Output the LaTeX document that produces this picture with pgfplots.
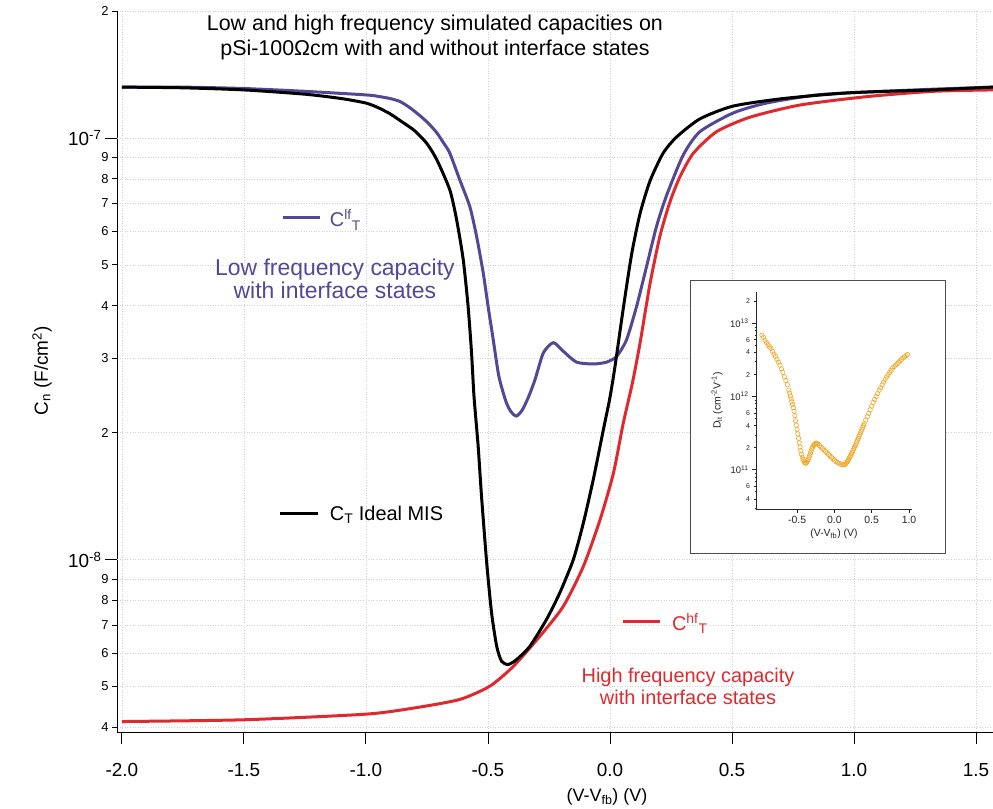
\documentclass[border=0pt]{standalone}
\usepackage{fontspec}
\setmainfont{Liberation Sans}
\usepackage{pgfplots}
\pgfplotsset{compat=1.18}
\definecolor{cpurple}{RGB}{86,70,150}
\definecolor{cred}{RGB}{222,42,46}
\definecolor{corange}{RGB}{240,168,40}
\newcommand{\fs}[1]{\fontsize{#1}{#1}\selectfont}
\begin{document}
\begin{tikzpicture}
\begin{axis}[
  at={(0,0)}, anchor=south west,
  scale only axis, width=876bp, height=721bp,
  xmin=-2.02, xmax=1.57,
  ymode=log, ymin=3.9e-9, ymax=2e-7,
  axis x line*=bottom, axis y line*=left,
  axis line style={line width=0.9pt,-},
  tick align=outside,
  tick style={black, line width=0.8pt},
  major tick length=5bp,
  xtick=\empty,
  extra x ticks={-2,-1.5,-1,-0.5,0,0.5,1,1.5},
  extra x tick labels={-2.0,-1.5,-1.0,-0.5,0.0,0.5,1.0,1.5},
  ytick={4e-9,5e-9,6e-9,7e-9,8e-9,9e-9,2e-8,3e-8,4e-8,5e-8,6e-8,7e-8,8e-8,9e-8,2e-7},
  yticklabels={4,5,6,7,8,9,2,3,4,5,6,7,8,9,2},
  extra y ticks={1e-8,1e-7},
  extra y tick labels={10\textsuperscript{-8},10\textsuperscript{-7}},
  extra tick style={major tick length=12bp, grid=major,
     yticklabel style={font=\fs{19}}},
  xticklabel style={font=\fs{19}, yshift=-16bp},
  yticklabel style={font=\fs{13}},
  ymajorgrids, xmajorgrids,
  grid style={gray!35, dash pattern=on 1pt off 1.6pt, line width=0.6pt},
  clip=false,
]
% High frequency (red)
\addplot[cred, line width=3bp, smooth, tension=0.4] coordinates {
(-2.0,4.13e-9) (-1.5,4.17e-9) (-1.0,4.3e-9) (-0.8,4.45e-9) (-0.615,4.66e-9)
(-0.492,5.01e-9) (-0.396,5.58e-9) (-0.287,6.58e-9) (-0.191,7.75e-9) (-0.109,9.63e-9)
(-0.041,1.24e-8) (0.014,1.60e-8) (0.055,2.11e-8) (0.092,2.62e-8) (0.123,3.25e-8)
(0.164,4.5e-8) (0.205,5.85e-8) (0.246,7.05e-8) (0.287,8.09e-8) (0.342,9.2e-8)
(0.437,1.035e-7) (0.574,1.12e-7) (0.779,1.197e-7) (1.052,1.253e-7) (1.325,1.29e-7) (1.57,1.30e-7)
};
% Low frequency (purple)
\addplot[cpurple, line width=3bp, smooth, tension=0.4] coordinates {
(-2.0,1.32e-7) (-1.75,1.32e-7) (-1.5,1.31e-7) (-1.25,1.29e-7) (-1.0,1.265e-7)
(-0.95,1.255e-7) (-0.9,1.24e-7) (-0.86,1.22e-7) (-0.82,1.18e-7) (-0.779,1.13e-7)
(-0.745,1.085e-7) (-0.71,1.03e-7) (-0.68,9.7e-8)
(-0.656,9.2e-8) (-0.615,7.95e-8) (-0.574,6.87e-8) (-0.546,5.83e-8) (-0.519,4.78e-8)
(-0.499,3.98e-8) (-0.478,3.32e-8) (-0.455,2.72e-8) (-0.426,2.37e-8) (-0.405,2.24e-8)
(-0.383,2.19e-8) (-0.360,2.26e-8) (-0.335,2.42e-8) (-0.307,2.67e-8) (-0.273,3.09e-8)
(-0.232,3.27e-8) (-0.191,3.12e-8) (-0.137,2.94e-8) (-0.068,2.91e-8) (-0.014,2.94e-8)
(0.027,3.03e-8) (0.068,3.32e-8) (0.109,3.98e-8) (0.150,4.95e-8) (0.191,6.17e-8)
(0.232,7.3e-8) (0.30,9.1e-8) (0.369,1.035e-7) (0.505,1.146e-7) (0.642,1.21e-7)
(0.847,1.265e-7) (1.052,1.285e-7) (1.324,1.305e-7) (1.57,1.32e-7)
};
% Ideal MIS (black)
\addplot[black, line width=3bp, smooth, tension=0.4] coordinates {
(-2.0,1.32e-7) (-1.75,1.315e-7) (-1.5,1.30e-7) (-1.25,1.27e-7) (-1.1,1.24e-7)
(-1.0,1.21e-7) (-0.95,1.18e-7) (-0.9,1.14e-7) (-0.85,1.09e-7) (-0.80,1.04e-7)
(-0.75,9.7e-8) (-0.709,8.87e-8) (-0.656,7.53e-8) (-0.628,6.39e-8) (-0.601,5.14e-8)
(-0.581,3.98e-8) (-0.567,3.09e-8) (-0.557,2.44e-8) (-0.540,1.86e-8) (-0.526,1.41e-8)
(-0.505,9.84e-9) (-0.485,7.48e-9) (-0.464,6.23e-9) (-0.444,5.74e-9) (-0.417,5.64e-9)
(-0.383,5.79e-9) (-0.328,6.23e-9) (-0.260,7.21e-9) (-0.205,8.35e-9) (-0.150,1.0e-8)
(-0.109,1.22e-8) (-0.068,1.55e-8) (-0.027,2.03e-8) (0.0,2.42e-8) (0.02,2.85e-8)
(0.055,3.95e-8) (0.089,5.3e-8) (0.123,6.6e-8) (0.164,7.9e-8) (0.218,9.2e-8)
(0.273,1.005e-7) (0.369,1.11e-7) (0.505,1.19e-7) (0.71,1.24e-7) (0.984,1.28e-7)
(1.324,1.30e-7) (1.57,1.32e-7)
};
% annotations
\node[align=center, font=\fs{21.5}, inner sep=0pt] at (axis cs:-0.717,1.73e-7)
  {Low and high frequency simulated capacities on\\[3bp] pSi-100Ωcm with and without interface states};
\draw[cpurple, line width=3bp] (axis cs:-1.340,6.46e-8) -- (axis cs:-1.189,6.46e-8);
\node[cpurple, anchor=west, font=\fs{20}, inner sep=0pt] at (axis cs:-1.148,6.40e-8) {C\textsuperscript{lf}\textsubscript{T}};
\node[cpurple, align=center, font=\fs{23}, inner sep=0pt] at (axis cs:-1.127,4.64e-8)
  {Low frequency capacity\\[0bp] with interface states};
\draw[black, line width=3bp] (axis cs:-1.352,1.285e-8) -- (axis cs:-1.197,1.285e-8);
\node[black, anchor=west, font=\fs{20}, inner sep=0pt] at (axis cs:-1.148,1.28e-8) {C\textsubscript{T} Ideal MIS};
\draw[cred, line width=3bp] (axis cs:0.053,7.13e-9) -- (axis cs:0.205,7.13e-9);
\node[cred, anchor=west, font=\fs{20}, inner sep=0pt] at (axis cs:0.254,7.06e-9) {C\textsuperscript{hf}\textsubscript{T}};
\node[cred, align=center, font=\fs{20}, inner sep=0pt] at (axis cs:0.320,5.0e-9)
  {High frequency capacity\\[2bp] with interface states};
\end{axis}
\node[rotate=90, font=\fs{19}] at (-75bp,361bp) {C\textsubscript{n} (F/cm\textsuperscript{2})};
\node[font=\fs{18}] at (490bp,-65bp) {(V-V\textsubscript{fb}) (V)};
% inset
\draw[fill=white, draw=gray!60!black, line width=0.8pt] (573bp,179bp) rectangle (828bp,452bp);
\begin{axis}[
  at={(639bp,223bp)}, anchor=south west,
  scale only axis, width=156bp, height=217bp,
  xmin=-1.05, xmax=1.04,
  ymode=log, ymin=2.9e10, ymax=2.7e13,
  axis x line*=bottom, axis y line*=left,
  axis line style={line width=0.6pt, gray!30!black,-},
  tick align=outside,
  tick style={gray!30!black, line width=0.5pt},
  major tick length=2.5bp, minor tick length=1.5bp,
  xtick=\empty,
  extra x ticks={-0.5,0,0.5,1},
  extra x tick labels={-0.5,0.0,0.5,1.0},
  ytick={4e10,6e10,2e11,4e11,6e11,2e12,4e12,6e12,2e13},
  yticklabels={4,6,2,4,6,2,4,6,2},
  minor ytick={3e10,5e10,7e10,8e10,9e10,3e11,5e11,7e11,8e11,9e11,3e12,5e12,7e12,8e12,9e12},
  extra y ticks={1e11,1e12,1e13},
  extra y tick labels={10\textsuperscript{11},10\textsuperscript{12},10\textsuperscript{13}},
  extra tick style={major tick length=4bp, yticklabel style={font=\fs{9.5}}},
  xticklabel style={font=\fs{10.5}, gray!30!black},
  yticklabel style={font=\fs{7}, gray!30!black},
  xlabel={(V-V\textsubscript{fb}) (V)},
  xlabel style={font=\fs{10.5}, gray!30!black, yshift=4bp},
  ylabel={D\textsubscript{it} (cm\textsuperscript{-2}V\textsuperscript{-1})},
  ylabel style={font=\fs{10.5}, gray!30!black, yshift=-2bp},
  clip=false,
]
\addplot[only marks, mark=o, mark size=2.2bp, corange, mark options={line width=0.6pt}] coordinates {
(-0.97,6.92e12) (-0.95,6.46e12) (-0.93,5.89e12) (-0.91,5.50e12) (-0.89,5.13e12)
(-0.87,4.79e12) (-0.85,4.57e12) (-0.83,4.17e12) (-0.81,3.80e12) (-0.79,3.55e12)
(-0.77,3.24e12) (-0.75,2.95e12) (-0.73,2.69e12) (-0.71,2.40e12) (-0.69,2.14e12)
(-0.67,1.86e12) (-0.65,1.66e12) (-0.63,1.45e12) (-0.61,1.23e12) (-0.60,1.12e12)
(-0.59,1.02e12) (-0.58,9.33e11) (-0.57,8.51e11) (-0.56,7.76e11) (-0.55,7.08e11)
(-0.54,6.31e11) (-0.53,5.50e11) (-0.52,4.68e11) (-0.51,4.07e11) (-0.50,3.55e11)
(-0.49,3.09e11) (-0.48,2.69e11) (-0.47,2.34e11) (-0.46,2.04e11) (-0.45,1.82e11)
(-0.44,1.62e11) (-0.43,1.48e11) (-0.42,1.38e11) (-0.41,1.32e11) (-0.40,1.26e11)
(-0.39,1.23e11) (-0.38,1.23e11) (-0.37,1.26e11) (-0.36,1.32e11) (-0.35,1.38e11)
(-0.34,1.48e11) (-0.33,1.58e11) (-0.32,1.70e11) (-0.31,1.82e11) (-0.30,1.95e11)
(-0.29,2.04e11) (-0.28,2.14e11) (-0.27,2.21e11) (-0.26,2.26e11) (-0.25,2.29e11)
(-0.24,2.29e11) (-0.23,2.26e11) (-0.22,2.24e11) (-0.20,2.14e11) (-0.18,2.04e11)
(-0.16,1.95e11) (-0.14,1.86e11) (-0.12,1.78e11) (-0.10,1.70e11) (-0.08,1.62e11)
(-0.06,1.55e11) (-0.04,1.48e11) (-0.02,1.41e11) (0.00,1.35e11) (0.02,1.29e11)
(0.04,1.26e11) (0.06,1.23e11) (0.08,1.20e11) (0.10,1.17e11) (0.12,1.16e11)
(0.14,1.17e11) (0.15,1.20e11) (0.16,1.23e11) (0.17,1.27e11) (0.18,1.32e11)
(0.19,1.38e11) (0.20,1.45e11) (0.21,1.51e11) (0.22,1.58e11) (0.23,1.66e11)
(0.24,1.74e11) (0.25,1.84e11) (0.26,1.95e11) (0.27,2.04e11) (0.28,2.14e11)
(0.29,2.26e11) (0.30,2.40e11) (0.31,2.54e11) (0.32,2.69e11) (0.33,2.85e11)
(0.34,3.02e11) (0.35,3.20e11) (0.36,3.39e11) (0.37,3.59e11) (0.38,3.80e11)
(0.39,4.03e11) (0.40,4.27e11) (0.42,4.79e11) (0.44,5.31e11) (0.46,5.89e11)
(0.48,6.61e11) (0.50,7.41e11) (0.52,8.32e11) (0.54,9.12e11) (0.56,1.00e12)
(0.58,1.10e12) (0.60,1.22e12) (0.62,1.32e12) (0.64,1.45e12) (0.66,1.58e12)
(0.68,1.72e12) (0.70,1.86e12) (0.72,2.00e12) (0.74,2.14e12) (0.76,2.29e12)
(0.78,2.45e12) (0.80,2.57e12) (0.82,2.69e12) (0.84,2.82e12) (0.86,2.95e12)
(0.88,3.09e12) (0.90,3.24e12) (0.92,3.39e12) (0.94,3.51e12) (0.96,3.63e12)
(0.98,3.76e12)
};
\end{axis}
\pgfresetboundingbox
\useasboundingbox (-117bp,-77bp) rectangle (876bp,732bp);
\end{tikzpicture}
\end{document}
